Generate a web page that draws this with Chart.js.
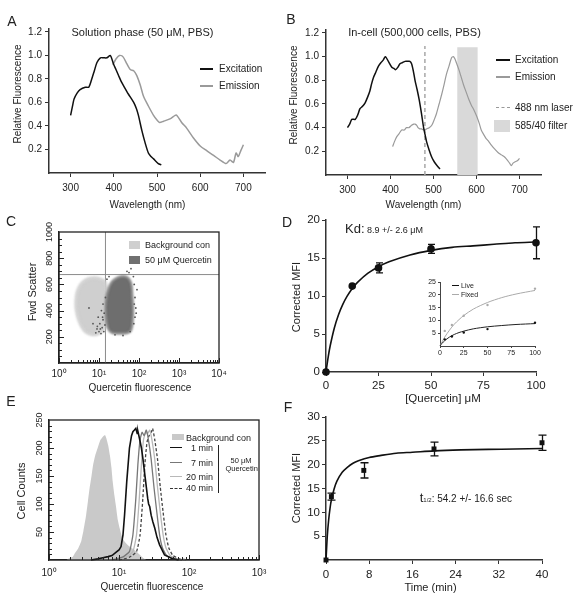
<!DOCTYPE html>
<html><head><meta charset="utf-8">
<script src="https://cdn.jsdelivr.net/npm/chart.js@4.4.1/dist/chart.umd.min.js"></script>
<style>
body{margin:0;background:#fff;}
#root{position:relative;width:578px;height:599px;overflow:hidden;font-family:"Liberation Sans",Arial,sans-serif;color:#222;background:#fff;}
canvas{position:absolute;}
.t{position:absolute;white-space:nowrap;line-height:1;}
.c{transform:translate(-50%,-50%);}
.l{transform:translate(0,-50%);}
.r{transform:translate(-100%,-50%);}
.v{transform:translate(-50%,-50%) rotate(-90deg);}
</style></head><body><div id="root"></div>
<script>
// ---------------- DATA ----------------
// Panel A (solution phase) [wavelength nm, relative fluorescence]
const aExcitation = [[300,0.49],[305,0.58],[308,0.63],[315,0.68],[322,0.71],[334,0.73],[342,0.73],[349,0.80],[355,0.87],[361,0.94],[369,0.98],[376,0.98],[384,0.98],[392,1.00],[399,0.93],[405,0.88],[411,0.83],[417,0.78],[423,0.74],[434,0.67],[446,0.60],[452,0.55],[457,0.49],[465,0.36],[473,0.25],[480,0.17],[486,0.14],[492,0.12],[503,0.08],[510,0.07]];
const aEmission = [[398,0.92],[405,0.97],[413,1.00],[421,0.99],[430,0.93],[438,0.88],[446,0.87],[453,0.83],[461,0.75],[469,0.65],[480,0.57],[492,0.49],[500,0.45],[506,0.43],[515,0.44],[530,0.46],[542,0.49],[546,0.49],[557,0.43],[569,0.38],[584,0.30],[600,0.23],[615,0.19],[631,0.15],[646,0.11],[660,0.08],[669,0.11],[677,0.09],[683,0.17],[688,0.14],[694,0.19],[700,0.24]];
const aXTicks = [300,400,500,600,700];
const aYTicks = [0.2,0.4,0.6,0.8,1.0,1.2];
// Panel B (in-cell)
const bExcitation = [[300,0.40],[305,0.43],[310,0.47],[318,0.47],[324,0.51],[329,0.56],[335,0.58],[341,0.61],[347,0.66],[352,0.71],[356,0.77],[360,0.82],[366,0.87],[372,0.92],[378,0.95],[383,0.97],[388,1.00],[395,0.96],[403,0.91],[408,0.90],[412,0.89],[417,0.91],[422,0.94],[428,0.95],[434,0.96],[440,0.96],[445,0.96],[449,0.94],[453,0.88],[457,0.80],[462,0.72],[467,0.63],[472,0.52],[477,0.40],[481,0.33],[484,0.28],[490,0.21],[496,0.15],[502,0.11],[508,0.08],[515,0.05]];
const bEmission = [[405,0.24],[409,0.28],[414,0.32],[420,0.35],[426,0.38],[432,0.38],[437,0.40],[443,0.40],[449,0.42],[454,0.43],[457,0.43],[461,0.42],[464,0.40],[468,0.39],[472,0.39],[478,0.38],[484,0.39],[490,0.40],[496,0.42],[502,0.47],[507,0.52],[513,0.60],[519,0.68],[525,0.77],[530,0.85],[536,0.92],[542,0.99],[546,1.00],[550,0.98],[553,0.95],[559,0.89],[565,0.82],[570,0.76],[576,0.70],[582,0.64],[588,0.59],[594,0.55],[600,0.50],[606,0.44],[611,0.38],[617,0.34],[622,0.31],[627,0.29],[635,0.25],[642,0.22],[650,0.19],[658,0.17],[666,0.15],[673,0.12],[677,0.10],[681,0.08],[685,0.10],[689,0.11],[695,0.12],[700,0.14]];
const bLaserNm = 480;
const bFilterRange = [555,603];
const bFilterTop = 1.08;
// Panel C (flow scatter) [fluorescence, fwd scatter]
const cBackgroundCloud = [[2.63,470],[2.82,540],[3.31,590],[4.17,625],[5.62,645],[7.94,650],[11.2,640],[14.1,620],[15.8,560],[16.6,450],[15.8,340],[13.2,260],[10,225],[7.08,215],[5.01,230],[3.80,270],[3.02,340],[2.69,410],[2.63,470]];
const cQuercetinCloud = [[15.8,520],[19.1,600],[25.1,640],[35.5,660],[50.1,655],[63.1,610],[67.6,520],[70.8,420],[69.2,320],[63.1,250],[50.1,228],[31.6,225],[22.4,228],[17.8,250],[15.8,300],[14.8,400],[15.1,470],[15.8,520]];
const cQuercetinDots = [[8.91,260],[10,240],[10.5,300],[11.2,225],[12.0,270],[12.6,330],[13.2,240],[13.5,380],[9.55,350],[11.5,400],[8.32,230],[14.1,290],[79.4,500],[83.2,420],[75.9,600],[72.4,660],[56.2,690],[63.1,720],[50.1,700],[79.4,350],[74.1,300],[89.1,560],[39.8,210],[25.1,215],[15.8,640],[17.8,660],[7.08,300],[5.62,420],[12.6,450],[14.5,500],[9.1,280],[12.3,350],[10.8,260],[76,450],[85,380],[60,240]];
const cGateX = 14.5, cGateY = 675;
const cXTicks = [1,10,100,1000,10000];
const cYTicks = [200,400,600,800,1000];
// Panel D (dose response)
const dConc = [0,12.5,25,50,100];
const dMFI = [0,11.3,13.7,16.2,17.0];
const dSEM = [0,0,0.65,0.6,2.1];
const dFit = [[0,0],[1,1.9],[2,3.45],[4,5.83],[6,7.57],[8,8.9],[10,9.95],[12.5,11.0],[15,11.8],[20,13.0],[25,13.85],[30,14.5],[40,15.4],[50,16.0],[60,16.4],[70,16.6],[80,16.8],[90,17.0],[100,17.1]];
const dXTicks = [0,25,50,75,100];
const dYTicks = [0,5,10,15,20];
// D inset
const insLive = [[5,2.6],[12.5,3.7],[25,5.3],[50,6.6],[100,9.1]];
const insFixed = [[5,5.9],[12.5,8.2],[25,11.8],[50,16.0],[100,22.4]];
const insLiveFit = [[0,0],[2,1.0],[5,2.1],[10,3.5],[15,4.5],[20,5.25],[25,5.8],[35,6.7],[50,7.5],[65,8.0],[80,8.4],[100,8.75]];
const insFixedFit = [[0,0],[2,1.5],[5,3.5],[10,6.2],[15,8.5],[20,10.3],[25,11.9],[35,14.4],[50,17.0],[65,18.9],[80,20.3],[100,21.7]];
const insXTicks = [0,25,50,75,100];
const insYTicks = [5,10,15,20,25];
// Panel E (histograms) [fluorescence, cell counts]
const eBackground = [[1.78,0],[2.0,4],[2.2,6],[2.34,12],[2.6,20],[2.88,33],[3.1,52],[3.39,80],[3.6,105],[3.8,128],[4.05,150],[4.27,170],[4.6,188],[5.01,202],[5.4,214],[5.89,220],[6.31,223],[6.61,217],[7.0,205],[7.41,187],[7.8,165],[8.13,140],[8.6,115],[9.12,93],[9.6,72],[10.2,57],[11.0,42],[12.0,33],[13.0,28],[14.1,24],[15.3,21],[16.6,18],[18.2,14],[20.0,9],[22.0,4],[24.5,0]];
const e1min = [[3.98,0],[5.0,2],[5.89,4],[7.0,6],[7.94,8],[9.12,14],[10.0,18],[10.7,24],[11.4,45],[12.0,80],[12.9,140],[14.1,200],[15.1,222],[15.8,229],[16.6,232],[17.4,235],[18.2,226],[18.6,230],[20.0,212],[20.9,200],[22.0,180],[23.4,152],[25.7,110],[26.5,100],[27.5,95],[28.8,80],[30.5,68],[32.4,57],[35.0,40],[38.0,27],[44.7,9],[56.2,3],[70.8,0]];
const e7min = [[7.94,0],[11.2,5],[14.1,15],[15.8,45],[17.4,110],[18.6,170],[20.0,215],[21.4,228],[22.9,222],[24.5,232],[26.3,215],[28.8,180],[31.6,130],[34.7,85],[38.0,45],[41.7,22],[47.9,8],[60.3,2],[79.4,0]];
const e20min = [[8.91,0],[12.6,5],[15.8,15],[17.8,45],[19.5,110],[20.9,170],[22.4,215],[24.0,228],[25.7,226],[27.5,232],[29.5,215],[32.4,180],[35.5,130],[38.9,85],[42.7,45],[46.8,22],[53.7,8],[67.6,2],[89.1,0]];
const e40min = [[10,0],[14.1,5],[17.8,15],[20.0,45],[21.9,110],[23.4,170],[25.1,210],[26.9,222],[28.8,228],[30.2,235],[32.4,215],[35.5,180],[38.9,130],[42.7,85],[46.8,45],[51.3,22],[58.9,8],[74.1,2],[95.5,0]];
const eXTicks = [1,10,100,1000];
const eYTicks = [50,100,150,200,250];
// Panel F (kinetics)
const fTime = [0,1,7,20,40];
const fMFI = [0,13.3,18.8,23.3,24.6];
const fSEM = [0,0.75,1.6,1.45,1.6];
const fFit = [[0,0],[0.25,5.2],[0.5,8.5],[0.75,10.9],[1,12.6],[1.5,14.9],[2,16.5],[3,18.4],[4,19.5],[5,20.3],[6,20.8],[8,21.5],[10,21.9],[13,22.4],[16,22.6],[20,22.9],[25,23.1],[30,23.2],[35,23.3],[40,23.4]];
const fXTicks = [0,8,16,24,32,40];
const fYTicks = [5,10,15,20,25,30];

// ---------------- SETUP ----------------
const FONT = "'Liberation Sans', Arial, sans-serif";
Chart.defaults.font.family = FONT;
Chart.defaults.color = '#222';
Chart.defaults.animation = false;
Chart.defaults.responsive = false;
Chart.defaults.devicePixelRatio = 1;
Chart.defaults.plugins.legend.display = false;
Chart.defaults.plugins.tooltip.enabled = false;
Chart.defaults.elements.point.radius = 0;
Chart.defaults.elements.line.borderWidth = 1.5;

const root = document.getElementById('root');
const P = a => a.map(([x,y]) => ({x, y}));
const Z = (xs, ys) => xs.map((x,i) => ({x, y: ys[i]}));
const SUP = {'0':'\u2070','1':'\u00b9','2':'\u00b2','3':'\u00b3','4':'\u2074'};
const powLabel = v => { const k = Math.round(Math.log10(v)); return '10' + SUP[String(k)]; };
function logTicks(lo, hi){ const out=[]; for(let k=lo;k<hi;k++){ for(let m=1;m<10;m++) out.push([m*Math.pow(10,k), m===1?5:3]); } out.push([Math.pow(10,hi),5]); return out; }

function canvas(l,t,w,h){ const c=document.createElement('canvas'); c.width=w; c.height=h; c.style.left=l+'px'; c.style.top=t+'px'; c.style.width=w+'px'; c.style.height=h+'px'; root.appendChild(c); return c; }
function T(html,x,y,size,cls='c',extra=''){ const d=document.createElement('div'); d.className='t '+cls; d.style.left=x+'px'; d.style.top=y+'px'; d.style.fontSize=size+'px'; d.innerHTML=html; if(extra) d.style.cssText+=extra; root.appendChild(d); }
function L(x1,x2,y,color,w,style='solid'){ const d=document.createElement('div'); d.style.cssText=`position:absolute;left:${x1}px;top:${y-w/2}px;width:${x2-x1}px;height:0;border-top:${w}px ${style} ${color};`; root.appendChild(d); }
function R(x,y,w,h,color){ const d=document.createElement('div'); d.style.cssText=`position:absolute;left:${x}px;top:${y}px;width:${w}px;height:${h}px;background:${color};`; root.appendChild(d); }

function axis(o){
  return {
    type: o.type || 'linear', min: o.min, max: o.max,
    afterBuildTicks: s => { s.ticks = o.ticks.map(v => ({value: v})); },
    afterFit: s => {
      if (o.w != null) { s.width = o.w; s.paddingTop = 0; s.paddingBottom = 0; }
      if (o.h != null) { s.height = o.h; s.paddingLeft = 0; s.paddingRight = 0; }
    },
    grid: { display: o.out !== false, drawOnChartArea: false, drawTicks: o.out !== false, tickLength: o.tl || 4, color: o.c || '#333', lineWidth: 1 },
    border: { display: true, color: o.c || '#333', width: o.bw || 1.5 },
    ticks: { display: o.labels !== false, autoSkip: false, maxRotation: 0, minRotation: 0, padding: o.pad != null ? o.pad : 3,
      font: { size: o.fs || 10 }, color: '#222', callback: o.cb || (v => v) }
  };
}

const plugins = {
  id: 'extras',
  afterDatasetDraw(chart, args, o) {
    // soft edges for the flow-cytometry clouds
    if (o.blur) {
      if (args.index === o.blur.from) chart.ctx.filter = 'blur(' + o.blur.px + 'px)';
      if (args.index === o.blur.to) chart.ctx.filter = 'none';
    }
  },
  afterDatasetsDraw(chart, args, o) {
    const {ctx, chartArea: ca, scales: {x, y}} = chart;
    ctx.filter = 'none';
    ctx.save();
    if (o.err) {
      ctx.strokeStyle = '#111'; ctx.lineWidth = 1.3;
      o.err.x.forEach((xv, i) => {
        const e = o.err.e[i]; if (!e) return;
        const px = Math.round(x.getPixelForValue(xv)) + 0.5;
        const lo = y.getPixelForValue(o.err.y[i] - e), hi = y.getPixelForValue(o.err.y[i] + e);
        ctx.beginPath();
        ctx.moveTo(px, lo); ctx.lineTo(px, hi);
        ctx.moveTo(px - o.err.cap, lo); ctx.lineTo(px + o.err.cap, lo);
        ctx.moveTo(px - o.err.cap, hi); ctx.lineTo(px + o.err.cap, hi);
        ctx.stroke();
      });
    }
    if (o.inTicks) {
      ctx.strokeStyle = '#222'; ctx.lineWidth = 1; ctx.beginPath();
      o.inTicks.x.forEach(([v, len]) => { const px = Math.round(x.getPixelForValue(v)) + 0.5; ctx.moveTo(px, ca.bottom); ctx.lineTo(px, ca.bottom - len); });
      o.inTicks.y.forEach(([v, len]) => { const py = Math.round(y.getPixelForValue(v)) + 0.5; ctx.moveTo(ca.left, py); ctx.lineTo(ca.left + len, py); });
      ctx.stroke();
      ctx.lineWidth = 1.3; ctx.strokeRect(ca.left, ca.top, ca.right - ca.left, ca.bottom - ca.top);
    }
    if (o.rotY) {
      ctx.font = o.rotY.size + 'px ' + FONT; ctx.fillStyle = '#222'; ctx.textAlign = 'center'; ctx.textBaseline = 'middle';
      o.rotY.values.forEach(v => { const py = y.getPixelForValue(v); ctx.save(); ctx.translate(ca.left - o.rotY.off, py); ctx.rotate(-Math.PI/2); ctx.fillText(String(v), 0, 0); ctx.restore(); });
    }
    ctx.restore();
  }
};
Chart.register(plugins);

const BLACK = '#111', GRAY = '#9a9a9a';
const lineDs = (data, color, w, extra={}) => Object.assign({type:'line', data, borderColor: color, borderWidth: w, pointRadius: 0, fill: false, tension: 0.25, clip: false}, extra);

// ---------------- PANEL A ----------------
new Chart(canvas(0,0,275,200), {
  type: 'line',
  data: { datasets: [ lineDs(P(aExcitation), BLACK, 1.5), lineDs(P(aEmission), GRAY, 1.5) ] },
  options: { layout: { padding: { top: 29, right: 10, left: 0, bottom: 0 } },
    scales: {
      x: axis({ min: 250, max: 750, ticks: aXTicks, h: 27, pad: 5 }),
      y: axis({ min: 0, max: 1.225, ticks: aYTicks, w: 49, pad: 3, cb: v => v.toFixed(1) })
    } }
});

// ---------------- PANEL B ----------------
new Chart(canvas(288,0,262,200), {
  type: 'line',
  data: { datasets: [
    lineDs(P(bExcitation), BLACK, 1.5),
    lineDs(P(bEmission), GRAY, 1.2),
    lineDs([{x:bLaserNm,y:0},{x:bLaserNm,y:1.09}], '#a8a8a8', 1.5, {borderDash:[4,3], tension:0}),
    lineDs([{x:bFilterRange[0],y:bFilterTop},{x:bFilterRange[1],y:bFilterTop}], 'rgba(0,0,0,0)', 0, {fill:'origin', backgroundColor:'#d9d9d9', tension:0})
  ] },
  options: { layout: { padding: { top: 30, right: 9, left: 0, bottom: 0 } },
    scales: {
      x: axis({ min: 250, max: 750, ticks: aXTicks, h: 25, pad: 5 }),
      y: axis({ min: 0, max: 1.225, ticks: aYTicks, w: 38, pad: 3, cb: v => v.toFixed(1) })
    } }
});

// ---------------- PANEL C ----------------
const cYInTicks = []; for (let v = 50; v < 1000; v += 50) cYInTicks.push([v, v % 200 === 0 ? 5 : 3]);
new Chart(canvas(0,215,240,180), {
  type: 'line',
  data: { datasets: [
    { type:'scatter', data: P(cQuercetinDots), pointRadius: 0.9, pointBackgroundColor: '#555', pointBorderWidth: 0, showLine: false },
    lineDs(P(cQuercetinCloud), 'rgba(110,110,110,0.7)', 2, {fill:'shape', backgroundColor:'#6e6e6e', tension:0.35}),
    lineDs(P(cBackgroundCloud), 'rgba(205,205,205,0.8)', 3, {fill:'shape', backgroundColor:'#cfcfcf', tension:0.35}),
    lineDs([{x:cGateX,y:0},{x:cGateX,y:1000}], '#8a8a8a', 1, {tension:0}),
    lineDs([{x:1,y:cGateY},{x:10000,y:cGateY}], '#8a8a8a', 1, {tension:0})
  ] },
  options: { layout: { padding: { top: 17, right: 21, left: 0, bottom: 0 } },
    plugins: { extras: { blur: { from: 3, to: 1, px: 1.2 }, inTicks: { x: logTicks(0,4), y: cYInTicks }, rotY: { values: cYTicks, size: 9, off: 9 } } },
    scales: {
      x: axis({ type:'logarithmic', min: 1, max: 10000, ticks: cXTicks, h: 32, pad: 5, out: false, cb: powLabel, c:'#222', bw:1.3 }),
      y: axis({ min: 0, max: 1000, ticks: cYTicks, w: 59, labels: false, out: false, c:'#222', bw:1.3 })
    } }
});

// ---------------- PANEL D ----------------
new Chart(canvas(288,210,260,185), {
  type: 'line',
  data: { datasets: [
    { type:'scatter', data: Z(dConc, dMFI), pointRadius: 3.8, pointBackgroundColor: BLACK, pointBorderWidth: 0, showLine:false, clip:false },
    lineDs(P(dFit), BLACK, 1.6, {tension:0.3})
  ] },
  options: { layout: { padding: { top: 10, right: 12, left: 0, bottom: 0 } },
    plugins: { extras: { err: { x: dConc, y: dMFI, e: dSEM, cap: 3.5 } } },
    scales: {
      x: axis({ min: 0, max: 100, ticks: dXTicks, h: 23, pad: 3, fs: 11.5 }),
      y: axis({ min: 0, max: 20, ticks: dYTicks, w: 38, pad: 2, fs: 11.5 })
    } }
});
// inset
new Chart(canvas(414,274,130,85), {
  type: 'line',
  data: { datasets: [
    { type:'scatter', data: P(insLive), pointRadius: 1.2, pointBackgroundColor: BLACK, pointBorderWidth:0, clip:false },
    { type:'scatter', data: P(insFixed), pointRadius: 1.2, pointBackgroundColor: '#aaa', pointBorderWidth:0, clip:false },
    lineDs(P(insLiveFit), '#222', 1, {tension:0.3}),
    lineDs(P(insFixedFit), '#aaa', 1, {tension:0.3})
  ] },
  options: { layout: { padding: { top: 8, right: 9, left: 0, bottom: 0 } },
    scales: {
      x: axis({ min: 0, max: 100, ticks: insXTicks, h: 13, pad: 1, fs: 7, tl: 2, bw: 1, c:'#444' }),
      y: axis({ min: 0, max: 25, ticks: insYTicks, w: 26, pad: 2, fs: 7, tl: 2, bw: 1, c:'#444' })
    } }
});

// ---------------- PANEL E ----------------
const eYInTicks = []; for (let v = 10; v < 250; v += 10) eYInTicks.push([v, v % 50 === 0 ? 5 : 3]);
new Chart(canvas(0,405,270,194), {
  type: 'line',
  data: { datasets: [
    lineDs(P(e1min), '#111', 1.6, {tension:0}),
    lineDs(P(e7min), '#777', 1.3, {tension:0.15}),
    lineDs(P(e20min), '#b8b8b8', 1.3, {tension:0.15}),
    lineDs(P(e40min), '#444', 1.3, {tension:0.15, borderDash:[3,2]}),
    lineDs(P(eBackground), 'rgba(0,0,0,0)', 0, {tension:0.1, fill:'origin', backgroundColor:'#c9c9c9'})
  ] },
  options: { layout: { padding: { top: 15, right: 11, left: 0, bottom: 0 } },
    plugins: { extras: { inTicks: { x: logTicks(0,3), y: eYInTicks }, rotY: { values: eYTicks, size: 9, off: 9 } } },
    scales: {
      x: axis({ type:'logarithmic', min: 1, max: 1000, ticks: eXTicks, h: 39, pad: 7, out: false, cb: powLabel, c:'#222', bw:1.3 }),
      y: axis({ min: 0, max: 250, ticks: eYTicks, w: 49, labels: false, out: false, c:'#222', bw:1.3 })
    } }
});

// ---------------- PANEL F ----------------
new Chart(canvas(288,405,262,194), {
  type: 'line',
  data: { datasets: [
    { type:'scatter', data: Z(fTime, fMFI), pointRadius: 3.5, pointStyle:'rect', pointBackgroundColor: BLACK, pointBorderWidth: 0, showLine:false, clip:false },
    lineDs(P(fFit), BLACK, 1.6, {tension:0.3})
  ] },
  options: { layout: { padding: { top: 12, right: 8, left: 0, bottom: 0 } },
    plugins: { extras: { err: { x: fTime, y: fMFI, e: fSEM, cap: 4 } } },
    scales: {
      x: axis({ min: 0, max: 40, ticks: fXTicks, h: 39, pad: 4, fs: 11.5 }),
      y: axis({ min: 0, max: 30, ticks: fYTicks, w: 38, pad: 2, fs: 11.5 })
    } }
});

// ---------------- TEXT / LEGENDS ----------------
T('A',12,21,14); T('B',291,19,14); T('C',11,221,14); T('D',287,222,14); T('E',11,401,14); T('F',288,407,14);
T('Solution phase (50 \u03bcM, PBS)',142.5,32,11);
T('In-cell (500,000 cells, PBS)',414.5,32,11);
T('Relative Fluorescence',17.5,94,10,'v');
T('Relative Fluorescence',294,95,10,'v');
T('Fwd Scatter',32,292,11,'v');
T('Corrected MFI',296,297,11,'v');
T('Cell Counts',21,491,11,'v');
T('Corrected MFI',296,488,11,'v');
T('Wavelength (nm)',147.5,205,10);
T('Wavelength (nm)',423.5,205,10);
T('Quercetin fluorescence',140,388,10);
T('[Quercetin] \u03bcM',443,399,11.5);
T('Quercetin fluorescence',152,587,10);
T('Time (min)',430.5,587,11);
// A legend
L(200,213,69,'#111',2.5); T('Excitation',219,69,10,'l');
L(200,213,86,'#9a9a9a',2.5); T('Emission',219,86,10,'l');
// B legend
L(496,510,60,'#111',2.5); T('Excitation',515,60,10,'l');
L(496,510,77,'#9a9a9a',2.5); T('Emission',515,77,10,'l');
L(496,510,108,'#999',1.2,'dashed'); T('488 nm laser',515,108,10,'l');
R(494,120,16,12,'#d9d9d9'); T('585/40 filter',515,126,10,'l');
// C legend
R(129,241,11,8,'#cfcfcf'); T('Background con',145,245,9,'l');
R(129,256,11,8,'#707070'); T('50 \u03bcM Quercetin',145,260,9,'l');
// D texts
T('<span style="font-size:13px">Kd:</span> 8.9 +/- 2.6 \u03bcM',345,228,9,'l');
L(452,459,285,'#111',1); T('Live',461,285,7,'l');
L(452,459,294,'#aaa',1); T('Fixed',461,294,7,'l');
// E legend
R(172,434,12,6,'#c9c9c9'); T('Background con',186,437.5,9,'l');
L(170,182,448,'#111',1.6); T('1 min',213,448.3,9,'r');
L(170,182,463,'#777',1.4); T('7 min',213,463.3,9,'r');
L(170,182,477,'#b8b8b8',1.4); T('20 min',213,476.7,9,'r');
L(170,182,488.5,'#333',1.4,'dashed'); T('40 min',213,488.3,9,'r');
R(218,445,1,48,'#222');
T('50 \u03bcM',241,461,7.5); T('Quercetin',241.7,469,7.5);
// F text
T('<span style="font-size:13px">t</span><span style="font-size:6px">1/2</span>: 54.2 +/- 16.6 sec',419.7,497,10,'l');
</script></body></html>
